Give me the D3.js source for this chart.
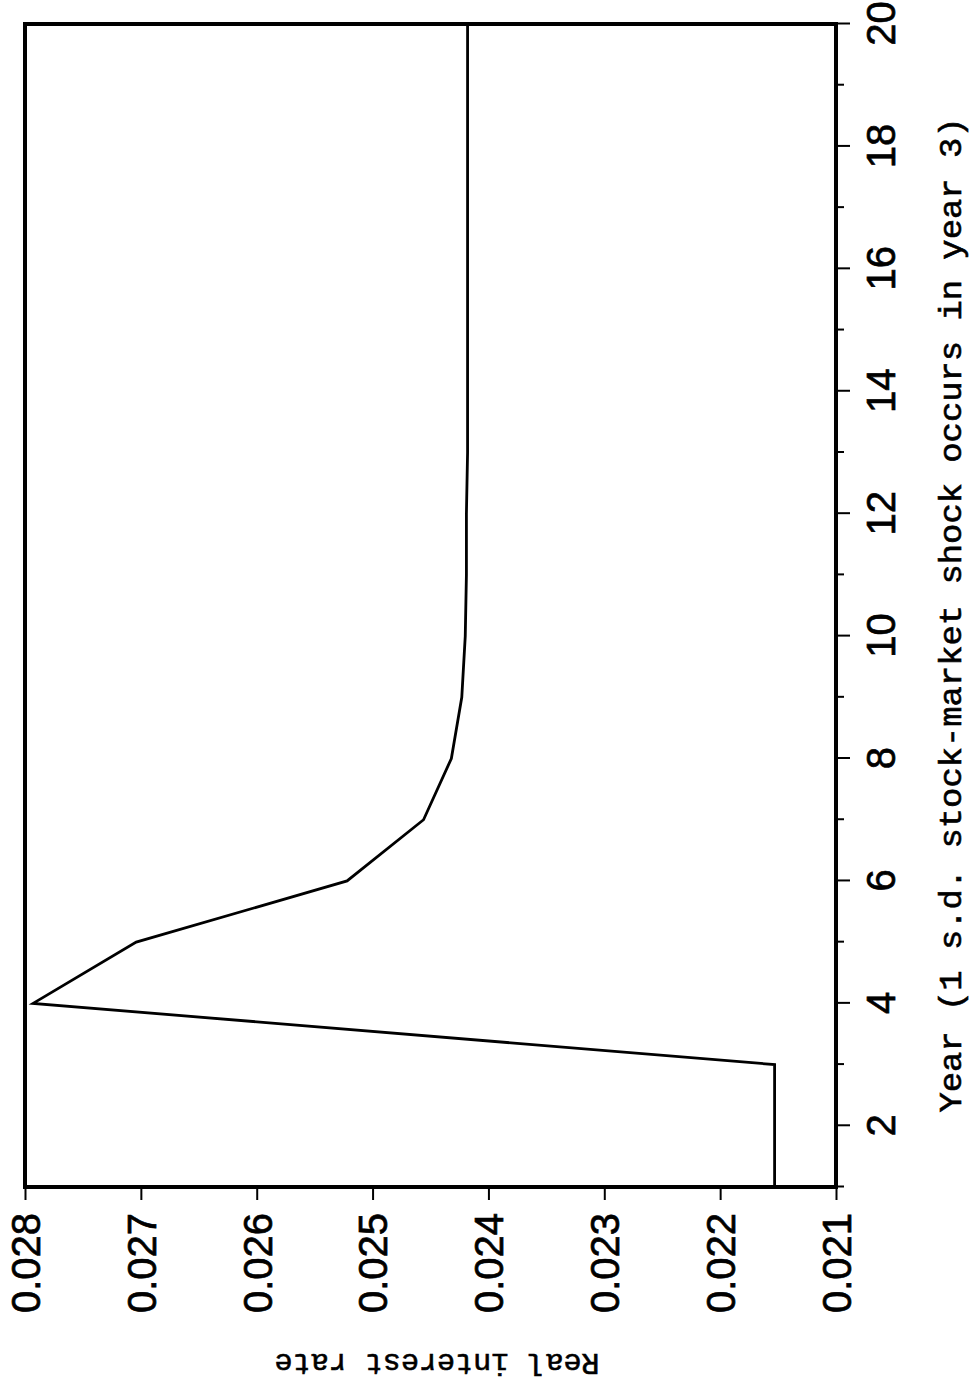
<!DOCTYPE html>
<html>
<head>
<meta charset="utf-8">
<script src="https://cdn.jsdelivr.net/npm/d3@7"></script>
<style>
	body { margin: 0; background: white; }
	svg { display: block; }
</style>
</head>
<body>
<script>
// Values
const years = [1, 2, 3, 4, 5, 6, 7, 8, 9, 10, 11, 12, 13, 14, 15, 16, 17, 18, 19, 20]
const rate = [0.02153, 0.02153, 0.02153, 0.02793, 0.02704, 0.02522, 0.02456, 0.02432, 0.02423, 0.02420,
	0.02419, 0.02419, 0.02418, 0.02418, 0.02418, 0.02418, 0.02418, 0.02418, 0.02418, 0.02418]
const rateTicks = [0.021, 0.022, 0.023, 0.024, 0.025, 0.026, 0.027, 0.028]
const xTitle = 'Year  (1  s.d.  stock-market  shock  occurs  in  year  3)'
const yTitle = 'Real  interest  rate'

const W = 970, H = 1397

const svg = d3.select('body').append('svg')
	.attr('width', W).attr('height', H)

svg.append('rect').attr('width', W).attr('height', H).attr('fill', 'white')

// The page is a landscape chart turned a quarter turn counter-clockwise
const g = svg.append('g')
	.attr('transform', `translate(0,${H}) rotate(-90)`)

const plotL = 210, plotR = 1373, plotT = 25, plotB = 836

const x = d3.scaleLinear().domain([1, 20]).range([plotL, plotR])
const y = d3.scaleLinear().domain([0.021, 0.028]).range([plotB, plotT])

// x axis (years)
const xAxis = g.append('g')
	.attr('transform', `translate(0,${plotB})`)
	.call(d3.axisBottom(x).tickValues(years).tickSize(13)
		.tickFormat(d => d % 2 == 0 ? d : ''))
xAxis.select('.domain').remove()
xAxis.selectAll('.tick line')
	.attr('y2', d => d % 2 == 0 ? 14 : 8)
	.attr('stroke', 'black').attr('stroke-width', 2)
xAxis.selectAll('.tick text')
	.attr('y', 59).attr('dy', 0)
	.style('font', '40px "Liberation Sans", Arial, sans-serif')
	.attr('fill', 'black').attr('stroke', 'black').attr('stroke-width', 0.7)

// y axis (rate)
const yAxis = g.append('g')
	.attr('transform', `translate(${plotL},0)`)
	.call(d3.axisLeft(y).tickValues(rateTicks).tickSize(13).tickPadding(13)
		.tickFormat(d3.format('.3f')))
yAxis.select('.domain').remove()
yAxis.selectAll('.tick line')
	.attr('stroke', 'black').attr('stroke-width', 2)
yAxis.selectAll('.tick text')
	.attr('dy', '0.36em')
	.style('font', '40px "Liberation Sans", Arial, sans-serif')
	.attr('fill', 'black').attr('stroke', 'black').attr('stroke-width', 0.7)

// frame
g.append('rect')
	.attr('x', plotL).attr('y', plotT)
	.attr('width', plotR - plotL).attr('height', plotB - plotT)
	.attr('fill', 'none')
	.attr('stroke', 'black').attr('stroke-width', 4)

// series
const line = d3.line()
	.x((d, i) => x(years[i]))
	.y(d => y(d))

g.append('path')
	.datum(rate)
	.attr('d', line)
	.attr('fill', 'none')
	.attr('stroke', 'black').attr('stroke-width', 2.8)
	.attr('stroke-linejoin', 'miter')

// titles
g.append('text')
	.attr('x', 782).attr('y', 961)
	.attr('text-anchor', 'middle')
	.attr('textLength', 995).attr('lengthAdjust', 'spacingAndGlyphs')
	.style('font', '32px "Liberation Mono", "Courier New", monospace')
	.attr('stroke', 'black').attr('stroke-width', 0.6)
	.text(xTitle)

g.append('text')
	.attr('transform', `translate(35,437) rotate(-90)`)
	.attr('text-anchor', 'middle')
	.attr('dominant-baseline', 'central')
	.attr('textLength', 325).attr('lengthAdjust', 'spacingAndGlyphs')
	.style('font', '30px "Liberation Mono", "Courier New", monospace')
	.attr('stroke', 'black').attr('stroke-width', 0.6)
	.text(yTitle)
</script>
</body>
</html>
